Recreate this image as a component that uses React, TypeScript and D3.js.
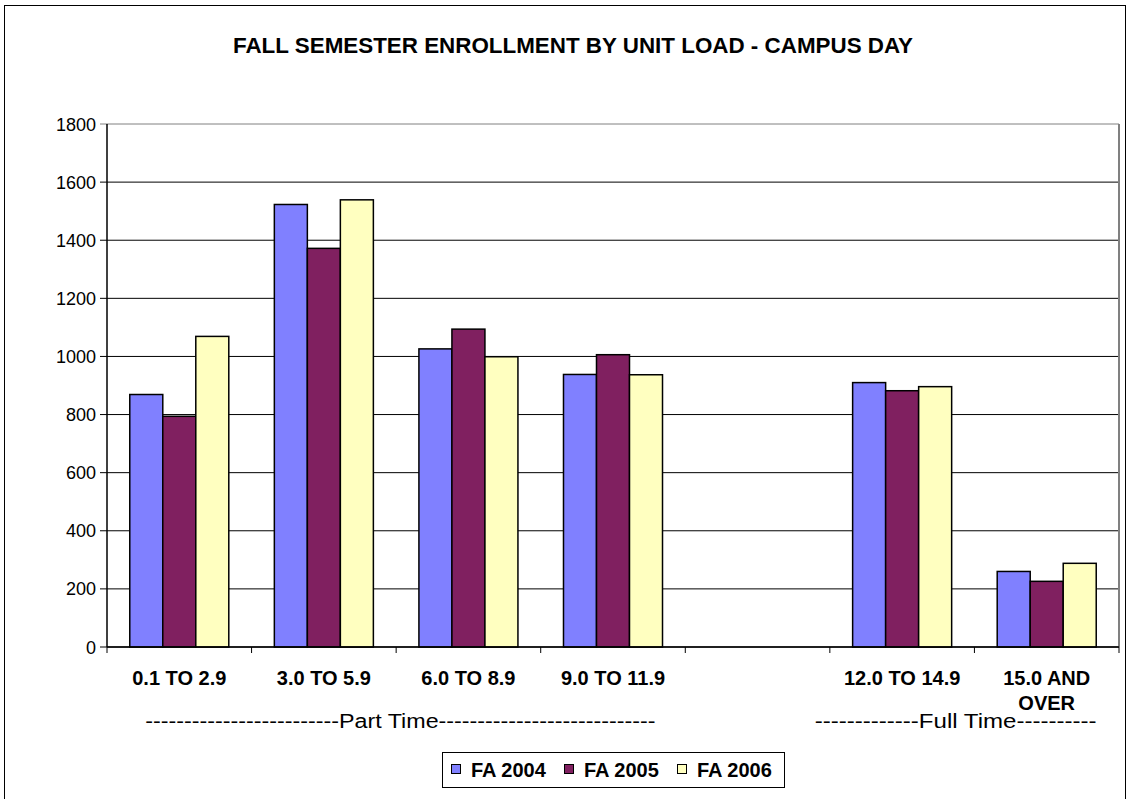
import * as React from 'react';
import * as d3 from 'd3';

const categories = ['0.1 TO 2.9', '3.0 TO 5.9', '6.0 TO 8.9', '9.0 TO 11.9', '', '12.0 TO 14.9', '15.0 AND OVER'];
const categoryLines = [['0.1 TO 2.9'], ['3.0 TO 5.9'], ['6.0 TO 8.9'], ['9.0 TO 11.9'], [], ['12.0 TO 14.9'], ['15.0 AND', 'OVER']];
const series = ['FA 2004', 'FA 2005', 'FA 2006'];
const fa2004 = [869, 1523, 1026, 938, null, 910, 260];
const fa2005 = [794, 1372, 1094, 1006, null, 882, 226];
const fa2006 = [1069, 1539, 999, 937, null, 896, 288];
const colors = ['#8080FF', '#802060', '#FFFFC0'];
const yTicks = [0, 200, 400, 600, 800, 1000, 1200, 1400, 1600, 1800];
const groupLabels = ['-------------------------Part Time----------------------------', '-------------Full Time----------'];

const W = 1130;
const H = 799;
const FONT = "'Liberation Sans', Arial, sans-serif";

export default function App() {
  const left = 107;
  const right = 1119;
  const top = 124;
  const bottom = 647;

  const keys = categories.map((c, i) => c + '#' + i);
  const x = d3.scaleBand<string>().domain(keys).range([left, right]);
  const xs = d3.scaleBand<string>().domain(series).range([0, x.bandwidth()]).paddingOuter(0.69);
  const y = d3.scaleLinear().domain([0, 1800]).range([bottom, top]);
  const values = [fa2004, fa2005, fa2006];

  // centre / width of the two dashed group captions (in category steps)
  const groupPos = [
    { at: 2.03, len: 3.53 },
    { at: 5.87, len: 1.95 },
  ];

  return (
    <svg width={W} height={H} style={{ position: 'absolute', left: 0, top: 0, background: '#fff' }} fontFamily={FONT}>
      <rect x={4.5} y={5.5} width={1121} height={H} fill="#fff" stroke="#000" strokeWidth={1} />
      <text x={573} y={53} textAnchor="middle" fontSize={22} fontWeight="bold" textLength={680} lengthAdjust="spacingAndGlyphs">
        FALL SEMESTER ENROLLMENT BY UNIT LOAD - CAMPUS DAY
      </text>

      {/* grid */}
      {yTicks.map((t) => (
        <g key={t}>
          <line x1={left - 7} x2={right} y1={y(t)} y2={y(t)} stroke={t === 1800 ? '#808080' : '#000'} strokeWidth={1} />
          <text x={96} y={y(t) + 6.5} textAnchor="end" fontSize={18}>
            {t}
          </text>
        </g>
      ))}
      <line x1={right} x2={right} y1={top} y2={bottom} stroke="#808080" strokeWidth={2} />

      {/* bars */}
      {values.map((vals, si) =>
        vals.map((v, ci) =>
          v == null ? null : (
            <rect
              key={si + '-' + ci}
              x={(x(keys[ci]) as number) + (xs(series[si]) as number)}
              y={y(v)}
              width={xs.bandwidth()}
              height={bottom - y(v)}
              fill={colors[si]}
              stroke="#000"
              strokeWidth={1.5}
            />
          )
        )
      )}

      {/* axes */}
      <line x1={left} x2={left} y1={top} y2={bottom} stroke="#000" strokeWidth={1.5} />
      <line x1={left} x2={right} y1={bottom} y2={bottom} stroke="#000" strokeWidth={1.5} />
      {keys.concat(['end']).map((k, i) => {
        const px = i < keys.length ? (x(k) as number) : right;
        return <line key={'t' + i} x1={px} x2={px} y1={bottom} y2={bottom + 6} stroke="#000" strokeWidth={1} />;
      })}
      {categoryLines.map((lines, i) =>
        lines.map((ln, li) => (
          <text
            key={'c' + i + li}
            x={(x(keys[i]) as number) + x.bandwidth() / 2}
            y={685 + li * 25}
            textAnchor="middle"
            fontSize={20}
            fontWeight="bold"
          >
            {ln}
          </text>
        ))
      )}
      {groupLabels.map((g, i) => (
        <text
          key={g}
          x={left + x.step() * groupPos[i].at}
          y={728}
          textAnchor="middle"
          fontSize={20}
          textLength={x.step() * groupPos[i].len}
          lengthAdjust="spacingAndGlyphs"
        >
          {g}
        </text>
      ))}

      {/* legend */}
      <rect x={442.5} y={752.5} width={342} height={35} fill="#fff" stroke="#000" strokeWidth={1} />
      {series.map((s, i) => (
        <g key={s} transform={`translate(${451 + i * 113},0)`}>
          <rect x={0.5} y={764.5} width={9} height={9} fill={colors[i]} stroke="#000" strokeWidth={1} />
          <text x={20} y={777} fontSize={20} fontWeight="bold">
            {s}
          </text>
        </g>
      ))}
    </svg>
  );
}
